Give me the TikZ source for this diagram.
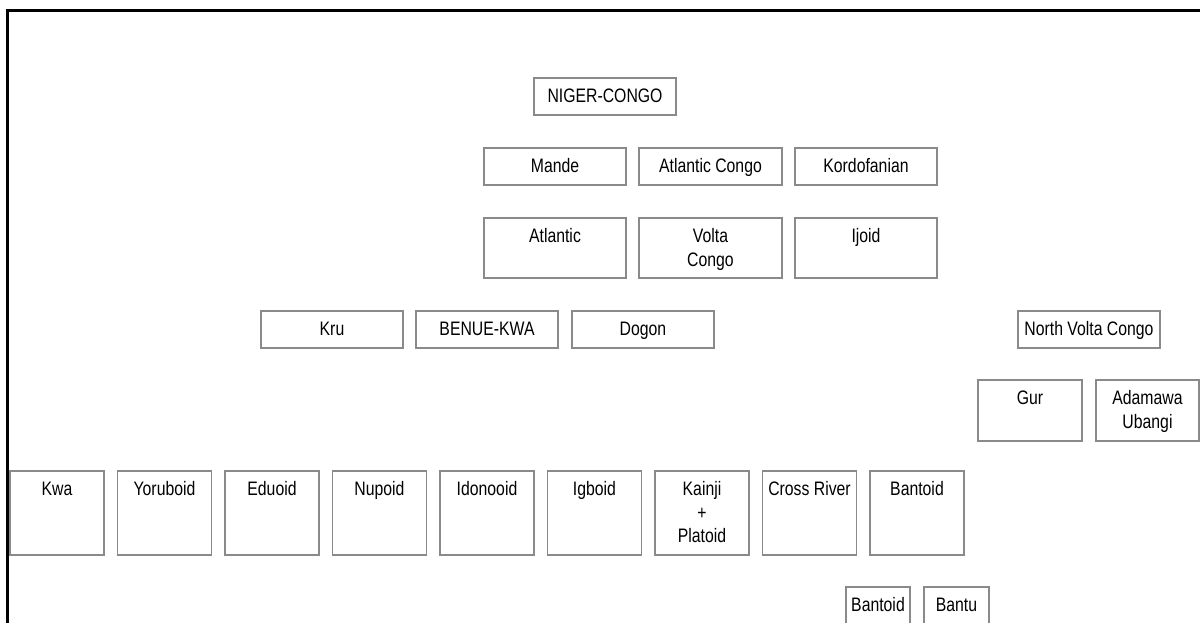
\documentclass[tikz,border=0pt]{standalone}
\usepackage{fontspec}
\setmainfont{Liberation Sans}[FakeStretch=0.81]
\usetikzlibrary{calc}
\definecolor{boxgray}{RGB}{138,138,138}
\tikzset{
  boxst/.style={draw=boxgray, line width=1.2pt, rectangle, inner sep=0pt, outer sep=0pt},
  txt/.style={anchor=north, inner sep=0pt, align=center, font=\fontsize{19.5}{23.5}\selectfont},
  frame/.style={draw=black, line width=2.4pt}
}
\newcommand{\mybox}[6]{%
  \node[boxst, minimum width={#4-#2}, minimum height={#5-#3}, anchor=north west] (#1) at (#2,#3) {};
  \node[txt] (#1-t) at ($(#1.north)+(0,10)$) {\rule{0pt}{14.5pt}#6};}
\begin{document}
\begin{tikzpicture}[x=1pt,y=-1pt]
\useasboundingbox (0,0) rectangle (1200,623);
\clip (0,0) rectangle (1200,623);
\coordinate (fa) at (7.5,640);
\coordinate (fb) at (7.5,10.5);
\coordinate (fc) at (1210,10.5);
\draw[frame] (fa) -- (fb) -- (fc);
\mybox{nc}{534}{78}{676}{115}{NIGER-CONGO}
\mybox{mande}{484}{148}{626}{185}{Mande}
\mybox{acongo}{639}{148}{782}{185}{Atlantic Congo}
\mybox{kordo}{795}{148}{937}{185}{Kordofanian}
\mybox{atl}{484}{218}{626}{278}{Atlantic}
\mybox{vc}{639}{218}{782}{278}{Volta\\Congo}
\mybox{ijoid}{795}{218}{937}{278}{Ijoid}
\mybox{kru}{261}{311}{403}{348}{Kru}
\mybox{bk}{416}{311}{558}{348}{BENUE-KWA}
\mybox{dogon}{572}{311}{714}{348}{Dogon}
\mybox{nvc}{1018}{311}{1160}{348}{North Volta Congo}
\mybox{gur}{978}{380}{1082}{441}{Gur}
\mybox{au}{1096}{380}{1199}{441}{Adamawa\\Ubangi}
\mybox{kwa}{10}{471}{104}{555}{Kwa}
\mybox{yor}{117.5}{471}{211.5}{555}{Yoruboid}
\mybox{edu}{225}{471}{319}{555}{Eduoid}
\mybox{nup}{332.5}{471}{426.5}{555}{Nupoid}
\mybox{ido}{440}{471}{534}{555}{Idonooid}
\mybox{igb}{547.5}{471}{641.5}{555}{Igboid}
\mybox{kai}{655}{471}{749}{555}{Kainji\\+\\Platoid}
\mybox{cross}{762.5}{471}{856.5}{555}{Cross River}
\mybox{bant}{870}{471}{964}{555}{Bantoid}
\mybox{sbant}{846}{587}{910}{640}{Bantoid}
\mybox{bantu}{924}{587}{989}{640}{Bantu}
\end{tikzpicture}
\end{document}
